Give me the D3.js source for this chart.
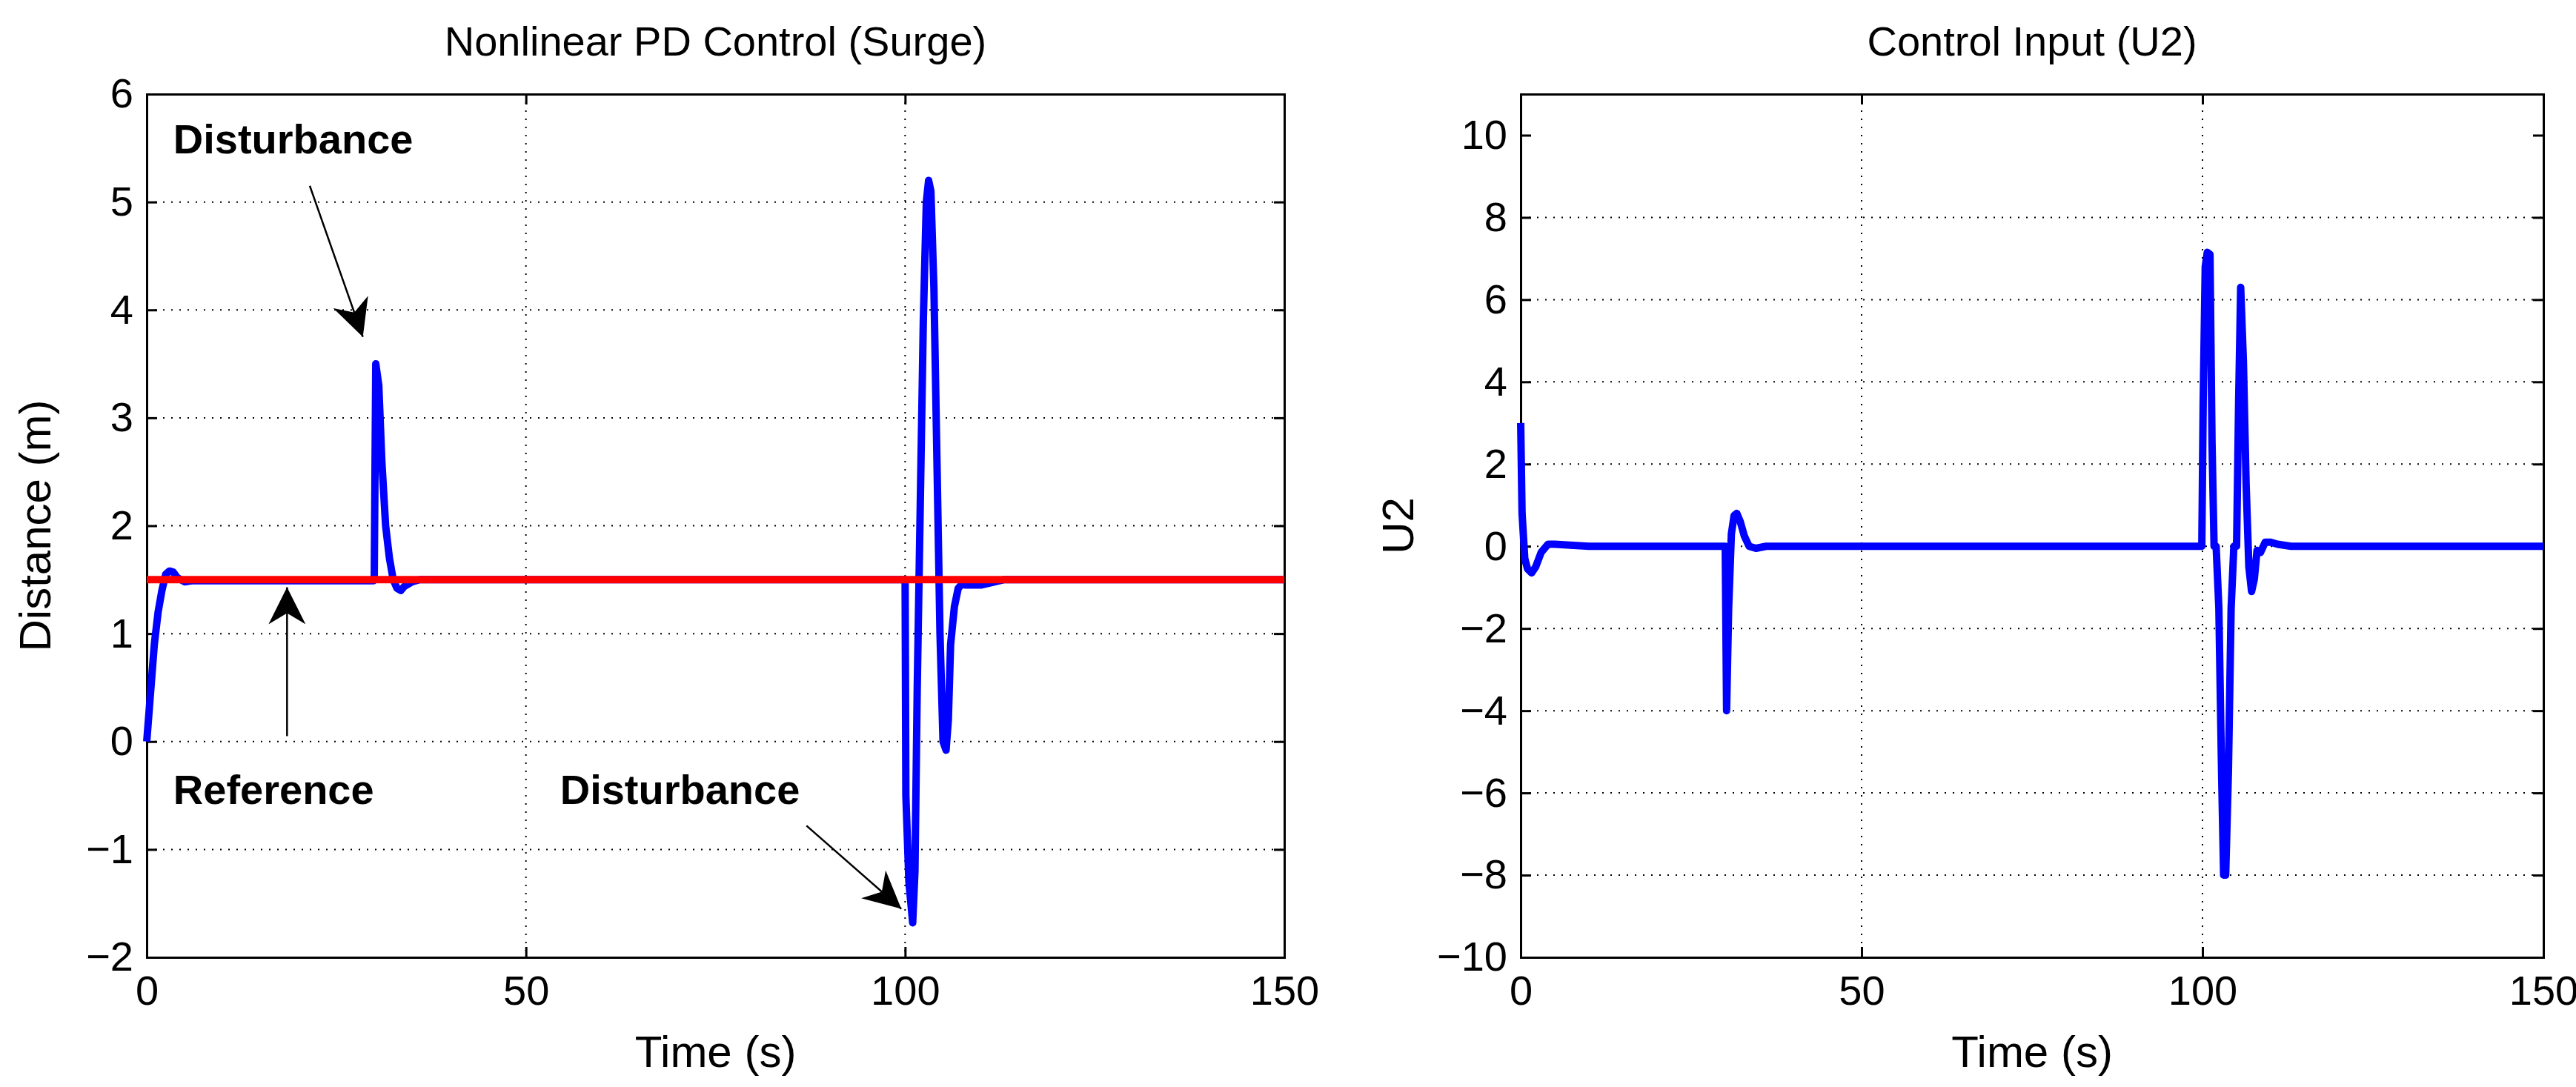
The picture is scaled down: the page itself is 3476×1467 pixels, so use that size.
<!DOCTYPE html>
<html><head><meta charset="utf-8">
<script src="https://cdn.jsdelivr.net/npm/d3@7"></script>
<style>body{margin:0;background:#fff}svg{font-family:"Liberation Sans",Arial,sans-serif}</style>
</head><body><svg id="c" width="3476" height="1467"></svg>
<script>
const surgeT = [0, 0.5, 1, 1.5, 2, 2.5, 3, 3.5, 4, 5, 6, 10, 29.9, 30, 30.2, 30.6, 31, 31.5, 32, 32.5, 33, 33.5, 34, 35, 36, 40, 99.9, 100, 100.1, 100.5, 101, 101.3, 101.6, 102, 102.4, 102.8, 103.1, 103.4, 103.8, 104.2, 104.6, 105, 105.4, 105.7, 106, 106.5, 107, 107.5, 108, 110, 113, 150];
const surgeY = [0, 0.45, 0.9, 1.2, 1.4, 1.55, 1.58, 1.57, 1.52, 1.48, 1.49, 1.49, 1.49, 1.5, 3.5, 3.3, 2.6, 2.0, 1.7, 1.5, 1.42, 1.4, 1.44, 1.48, 1.5, 1.5, 1.5, 1.5, -0.5, -1.3, -1.68, -1.2, 0.5, 2.2, 3.9, 5.0, 5.2, 5.1, 4.2, 2.6, 1.0, 0.0, -0.08, 0.2, 0.9, 1.25, 1.42, 1.46, 1.45, 1.45, 1.5, 1.5];
const refT = [0, 150];
const refY = [1.5, 1.5];
const u2T = [0, 0.2, 0.6, 1, 1.6, 2.2, 3, 4, 5, 10, 29.9, 30, 30.2, 30.5, 30.9, 31.3, 31.7, 32.2, 32.8, 33.5, 34.5, 36, 40, 99.9, 100.1, 100.4, 100.7, 101.1, 101.4, 101.7, 102, 102.4, 102.8, 103.1, 103.4, 103.8, 104.2, 104.6, 105, 105.3, 105.6, 106, 106.4, 106.8, 107.2, 107.6, 108, 108.5, 109.2, 110, 111, 113, 150];
const u2Y = [3, 0.8, -0.3, -0.55, -0.65, -0.5, -0.15, 0.05, 0.05, 0, 0, 0, -4, -1.5, 0.3, 0.75, 0.8, 0.6, 0.25, 0, -0.05, 0, 0, 0, 3.5, 6.8, 7.15, 7.1, 2.5, 0, 0, -1.5, -5.5, -8.0, -8.0, -5.5, -1.5, 0, 0, 3.5, 6.3, 4.5, 1.5, -0.5, -1.1, -0.8, -0.1, -0.15, 0.1, 0.1, 0.05, 0, 0];
const xTicks = [0, 50, 100, 150];
const surgeTicks = [-2, -1, 0, 1, 2, 3, 4, 5, 6];
const u2Ticks = [-10, -8, -6, -4, -2, 0, 2, 4, 6, 8, 10];
// annotations: [label, textX, textY, fromX, fromY, toX, toY]
const notes = [
  ["Disturbance", 3.5, 5.45, 21.5, 5.15, 28.5, 3.75],
  ["Reference", 3.5, -0.58, 18.5, 0.05, 18.5, 1.43],
  ["Disturbance", 54.5, -0.58, 87, -0.78, 99.5, -1.55]
];

const svg = d3.select("#c");
svg.append("defs").append("marker").attr("id", "ah")
  .attr("viewBox", "0 0 10 10").attr("refX", 10).attr("refY", 5)
  .attr("markerWidth", 50).attr("markerHeight", 50).attr("markerUnits", "userSpaceOnUse")
  .attr("orient", "auto")
  .append("path").attr("d", "M0,0 L10,5 L0,10 L3,5 Z").attr("fill", "#000");

function panel(left, right, title, ylab, ylabOff, yDomain, yTicks, series) {
  const top = 127, bottom = 1292;
  const x = d3.scaleLinear().domain([0, 150]).range([left, right]);
  const y = d3.scaleLinear().domain(yDomain).range([bottom, top]);
  const g = svg.append("g");
  g.selectAll(".gx").data(xTicks.slice(1, -1)).join("line")
    .attr("x1", d => x(d)).attr("x2", d => x(d)).attr("y1", top).attr("y2", bottom)
    .attr("stroke", "#000").attr("stroke-width", 2).attr("stroke-dasharray", "2,9");
  g.selectAll(".gy").data(yTicks.slice(1, -1)).join("line")
    .attr("y1", d => y(d)).attr("y2", d => y(d)).attr("x1", left).attr("x2", right)
    .attr("stroke", "#000").attr("stroke-width", 2).attr("stroke-dasharray", "2,9");
  const fmt = d => String(d).replace("-", "\u2212");
  const ax = g.append("g").attr("transform", `translate(0,${bottom})`)
    .call(d3.axisBottom(x).tickValues(xTicks).tickSize(-14).tickPadding(24).tickFormat(fmt));
  g.append("g").attr("transform", `translate(${left},0)`)
    .call(d3.axisLeft(y).tickValues(yTicks).tickSize(-14).tickPadding(18).tickFormat(fmt));
  g.append("g").attr("transform", `translate(0,${top})`)
    .call(d3.axisTop(x).tickValues(xTicks).tickSize(-14).tickFormat(""));
  g.append("g").attr("transform", `translate(${right},0)`)
    .call(d3.axisRight(y).tickValues(yTicks).tickSize(-14).tickFormat(""));
  g.selectAll(".domain").attr("stroke-width", 3);
  g.selectAll(".tick line").attr("stroke-width", 3);
  g.selectAll(".tick text").attr("font-size", 56).attr("fill", "#000");
  ax.selectAll(".tick text").attr("dy", "0.71em");
  series.forEach(s => {
    g.append("path").datum(d3.zip(s.t, s.v))
      .attr("d", d3.line().x(d => x(d[0])).y(d => y(d[1])))
      .attr("fill", "none").attr("stroke", s.color).attr("stroke-width", 10)
      .attr("stroke-linejoin", "round");
  });
  g.append("text").attr("x", (left + right) / 2).attr("y", 75).attr("text-anchor", "middle")
    .attr("font-size", 56).text(title);
  g.append("text").attr("x", (left + right) / 2).attr("y", 1440).attr("text-anchor", "middle")
    .attr("font-size", 60).text("Time (s)");
  g.append("text").attr("transform", `translate(${left - ylabOff},${(top + bottom) / 2}) rotate(-90)`)
    .attr("text-anchor", "middle").attr("font-size", 60).text(ylab);
  return { x, y, g };
}

const p1 = panel(198, 1733, "Nonlinear PD Control (Surge)", "Distance (m)", 130, [-2, 6], surgeTicks,
  [{ t: surgeT, v: surgeY, color: "#0000ff" }, { t: refT, v: refY, color: "#ff0000" }]);
panel(2052, 3432, "Control Input (U2)", "U2", 145, [-10, 11], u2Ticks,
  [{ t: u2T, v: u2Y, color: "#0000ff" }]);

notes.forEach(n => {
  p1.g.append("text").attr("x", p1.x(n[1])).attr("y", p1.y(n[2]))
    .attr("font-size", 56).attr("font-weight", "bold").text(n[0]);
  p1.g.append("line").attr("x1", p1.x(n[3])).attr("y1", p1.y(n[4]))
    .attr("x2", p1.x(n[5])).attr("y2", p1.y(n[6]))
    .attr("stroke", "#000").attr("stroke-width", 2.5).attr("marker-end", "url(#ah)");
});
</script></body></html>
